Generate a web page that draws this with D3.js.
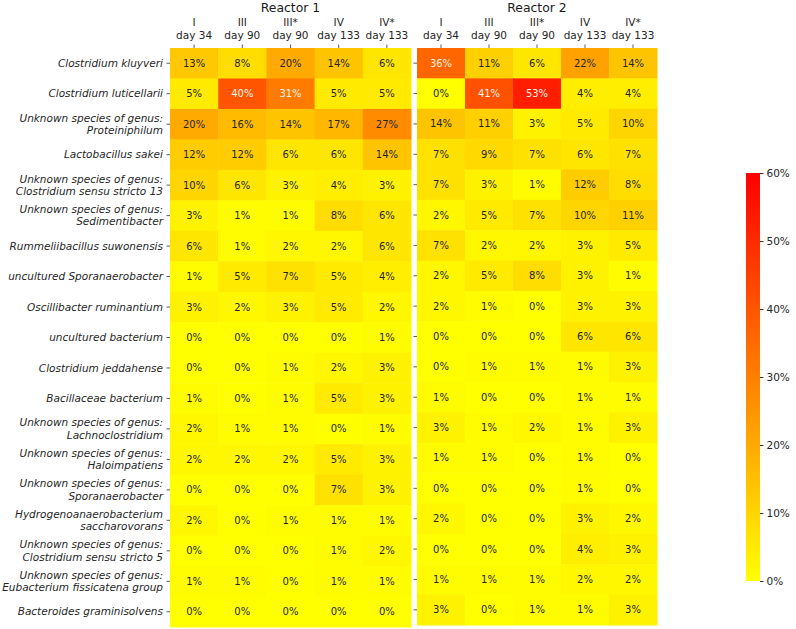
<!DOCTYPE html>
<html><head><meta charset="utf-8">
<script src="https://cdn.jsdelivr.net/npm/d3@7"></script>
<style>body{margin:0;background:#fff}svg{display:block}text{font-family:"DejaVu Sans",sans-serif}</style>
</head><body>
<script>
const species = [
  ["Clostridium kluyveri"],
  ["Clostridium luticellarii"],
  ["Unknown species of genus:", "Proteiniphilum"],
  ["Lactobacillus sakei"],
  ["Unknown species of genus:", "Clostridium sensu stricto 13"],
  ["Unknown species of genus:", "Sedimentibacter"],
  ["Rummeliibacillus suwonensis"],
  ["uncultured Sporanaerobacter"],
  ["Oscillibacter ruminantium"],
  ["uncultured bacterium"],
  ["Clostridium jeddahense"],
  ["Bacillaceae bacterium"],
  ["Unknown species of genus:", "Lachnoclostridium"],
  ["Unknown species of genus:", "Haloimpatiens"],
  ["Unknown species of genus:", "Sporanaerobacter"],
  ["Hydrogenoanaerobacterium", "saccharovorans"],
  ["Unknown species of genus:", "Clostridium sensu stricto 5"],
  ["Unknown species of genus:", "Eubacterium fissicatena group"],
  ["Bacteroides graminisolvens"]
];
const samples = [["I","day 34"],["III","day 90"],["III*","day 90"],["IV","day 133"],["IV*","day 133"]];
const reactor1 = [
  [13,8,20,14,6],[5,40,31,5,5],[20,16,14,17,27],[12,12,6,6,14],[10,6,3,4,3],
  [3,1,1,8,6],[6,1,2,2,6],[1,5,7,5,4],[3,2,3,5,2],[0,0,0,0,1],
  [0,0,1,2,3],[1,0,1,5,3],[2,1,1,0,1],[2,2,2,5,3],[0,0,0,7,3],
  [2,0,1,1,1],[0,0,0,1,2],[1,1,0,1,1],[0,0,0,0,0]
];
const reactor2 = [
  [36,11,6,22,14],[0,41,53,4,4],[14,11,3,5,10],[7,9,7,6,7],[7,3,1,12,8],
  [2,5,7,10,11],[7,2,2,3,5],[2,5,8,3,1],[2,1,0,3,3],[0,0,0,6,6],
  [0,1,1,1,3],[1,0,0,1,1],[3,1,2,1,3],[1,1,0,1,0],[0,0,0,1,0],
  [2,0,0,3,2],[0,0,0,4,3],[1,1,1,2,2],[3,0,1,1,3]
];
const reactorTitles = ["Reactor 1", "Reactor 2"];
const cbarTicks = [0,10,20,30,40,50,60];

const W = 796, H = 629;
const svg = d3.select("body").append("svg").attr("width", W).attr("height", H);
const color = d3.scaleLinear().domain([0,60]).range(["#ffff00","#ff0000"]).clamp(true);
const textDark = "#262626";

const panels = [
  {data: reactor1, title: reactorTitles[0], x0: 170, x1: 411, y0: 48, y1: 627, labels: true},
  {data: reactor2, title: reactorTitles[1], x0: 417, x1: 657, y0: 48, y1: 625, labels: false}
];
const rowIdx = d3.range(species.length), colIdx = d3.range(samples.length);

panels.forEach(p => {
  const x = d3.scaleBand().domain(colIdx).range([p.x0, p.x1]);
  const y = d3.scaleBand().domain(rowIdx).range([p.y0, p.y1]);
  const g = svg.append("g");
  const cells = [];
  p.data.forEach((row, i) => row.forEach((v, j) => cells.push({i, j, v})));
  g.selectAll("rect").data(cells).join("rect")
    .attr("x", d => x(d.j)).attr("y", d => y(d.i))
    .attr("width", x.bandwidth() + 0.5).attr("height", y.bandwidth() + 0.5)
    .attr("fill", d => color(d.v));
  g.selectAll("text.val").data(cells).join("text").attr("class","val")
    .attr("x", d => x(d.j) + x.bandwidth()/2).attr("y", d => y(d.i) + y.bandwidth()/2)
    .attr("dy", "0.35em").attr("text-anchor","middle").attr("font-size", 10)
    .attr("fill", d => d.v >= 30 ? "#fff2e6" : textDark)
    .text(d => d.v + "%");
  // top axis
  const ax = svg.append("g");
  colIdx.forEach(j => {
    const cx = x(j) + x.bandwidth()/2;
    ax.append("line").attr("x1", cx).attr("x2", cx).attr("y1", p.y0 - 3.5).attr("y2", p.y0).attr("stroke", "#333").attr("stroke-width", 0.8);
    ax.append("text").attr("x", cx).attr("y", 26).attr("text-anchor","middle").attr("font-size", 10.5).attr("fill", textDark).text(samples[j][0]);
    ax.append("text").attr("x", cx).attr("y", 38.5).attr("text-anchor","middle").attr("font-size", 10.5).attr("fill", textDark).text(samples[j][1]);
  });
  svg.append("text").attr("x", (p.x0 + p.x1)/2).attr("y", 12).attr("text-anchor","middle")
    .attr("font-size", 12.4).attr("fill", "#1a1a1a").text(p.title);
  // left axis
  rowIdx.forEach(i => {
    const cy = y(i) + y.bandwidth()/2;
    svg.append("line").attr("x1", p.x0 - 3.5).attr("x2", p.x0).attr("y1", cy).attr("y2", cy).attr("stroke", "#333").attr("stroke-width", 0.8);
    if (p.labels) {
      const lines = species[i];
      const t = svg.append("text").attr("text-anchor","end").attr("font-size", 10.5)
        .attr("font-style","italic").attr("fill", textDark);
      lines.forEach((ln, k) => {
        t.append("tspan").attr("x", p.x0 - 7)
          .attr("y", cy + (k - (lines.length - 1)/2) * 12.2).attr("dy","0.35em").text(ln);
      });
    }
  });
});

// colorbar
const cb = {x: 746, w: 14, y0: 173, y1: 581};
const defs = svg.append("defs");
const grad = defs.append("linearGradient").attr("id","cbg").attr("x1",0).attr("x2",0).attr("y1",1).attr("y2",0);
grad.append("stop").attr("offset","0%").attr("stop-color", color(0));
grad.append("stop").attr("offset","100%").attr("stop-color", color(60));
svg.append("rect").attr("x", cb.x).attr("y", cb.y0).attr("width", cb.w).attr("height", cb.y1 - cb.y0).attr("fill","url(#cbg)");
const cy = d3.scaleLinear().domain([0,60]).range([cb.y1, cb.y0]);
const cax = svg.append("g").attr("transform", `translate(${cb.x + cb.w},0)`)
  .call(d3.axisRight(cy).tickValues(cbarTicks).tickFormat(d => d + "%").tickSize(3.5).tickPadding(3));
cax.select(".domain").remove();
cax.selectAll("text").attr("font-size", 10.5).attr("fill", textDark).attr("font-family","DejaVu Sans");
cax.selectAll("line").attr("stroke","#333");
</script>
</body></html>
